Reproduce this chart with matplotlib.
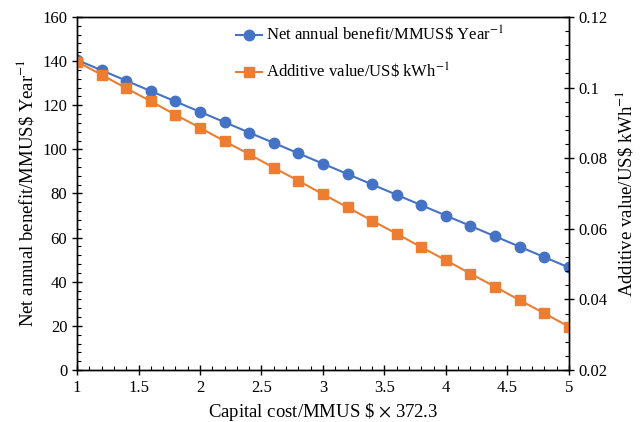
import numpy as np
import matplotlib.pyplot as plt
from matplotlib.ticker import MultipleLocator

plt.rcParams['font.family'] = ['Liberation Serif', 'DejaVu Serif']
plt.rcParams['mathtext.fontset'] = 'stix'

# capital cost multiplier
capital = [1.0, 1.2, 1.4, 1.6, 1.8, 2.0, 2.2, 2.4, 2.6, 2.8, 3.0,
           3.2, 3.4, 3.6, 3.8, 4.0, 4.2, 4.4, 4.6, 4.8, 5.0]
# net annual benefit (MMUS$ / year)
net_benefit = [140.5, 135.8, 131.1, 126.4, 121.7, 117.0, 112.3, 107.6, 102.9, 98.2, 93.5,
               88.8, 84.1, 79.4, 74.7, 70.0, 65.3, 60.6, 55.9, 51.2, 46.5]
# additive value (US$ / kWh)
additive = [0.1073, 0.1036, 0.0998, 0.0961, 0.0923, 0.0886, 0.0848, 0.0811, 0.0773, 0.0736, 0.0698,
            0.0661, 0.0623, 0.0586, 0.0548, 0.0511, 0.0473, 0.0436, 0.0398, 0.0361, 0.0323]

blue = '#4472C4'
orange = '#ED7D31'

fig = plt.figure(figsize=(6.42, 4.22), dpi=100)
ax = fig.add_axes([0.12, 0.123, 0.766, 0.837])
ax2 = ax.twinx()

l1, = ax.plot(capital, net_benefit, color=blue, marker='o', ms=7.5, lw=1.5,
              label='Net annual benefit/MMUS\\$ Year$^{-1}$')
l2, = ax2.plot(capital, additive, color=orange, marker='s', ms=6.5, lw=1.5,
               label='Additive value/US\\$ kWh$^{-1}$')

ax.set_xlim(1, 5)
ax.set_ylim(0, 160)
ax2.set_ylim(0.02, 0.12)

ax.xaxis.set_minor_locator(MultipleLocator(0.1))
ax.yaxis.set_major_locator(MultipleLocator(20))
ax.yaxis.set_minor_locator(MultipleLocator(4))
ax2.yaxis.set_minor_locator(MultipleLocator(0.004))

ax.set_xticks(np.arange(1, 5.01, 0.5))
ax.set_xticklabels(['1', '1.5', '2', '2.5', '3', '3.5', '4', '4.5', '5'])
ax2.set_yticks([0.02, 0.04, 0.06, 0.08, 0.1, 0.12])
ax2.set_yticklabels(['0.02', '0.04', '0.06', '0.08', '0.1', '0.12'])

for a in (ax, ax2):
    a.tick_params(which='major', direction='inout', length=7, width=1, labelsize=12, colors='black')
    a.tick_params(which='minor', direction='in', length=3, width=0.8)
    for s in a.spines.values():
        s.set_linewidth(1.0)
ax.tick_params(axis='x', which='both', top=False)

ax.set_xlabel('Capital cost/MMUS \\$ $\\times$ 372.3', fontsize=13.5)
ax.set_ylabel('Net annual benefit/MMUS\\$ Year$^{-1}$', fontsize=13.5)
ax2.set_ylabel('Additive value/US\\$ kWh$^{-1}$', fontsize=13.5)

ax.legend(handles=[l1, l2], loc='upper center', bbox_to_anchor=(0.595, 1.02),
          frameon=False, fontsize=12, labelspacing=1.0, handlelength=1.6,
          handletextpad=0.2)

fig.savefig('out.png', dpi=100)
